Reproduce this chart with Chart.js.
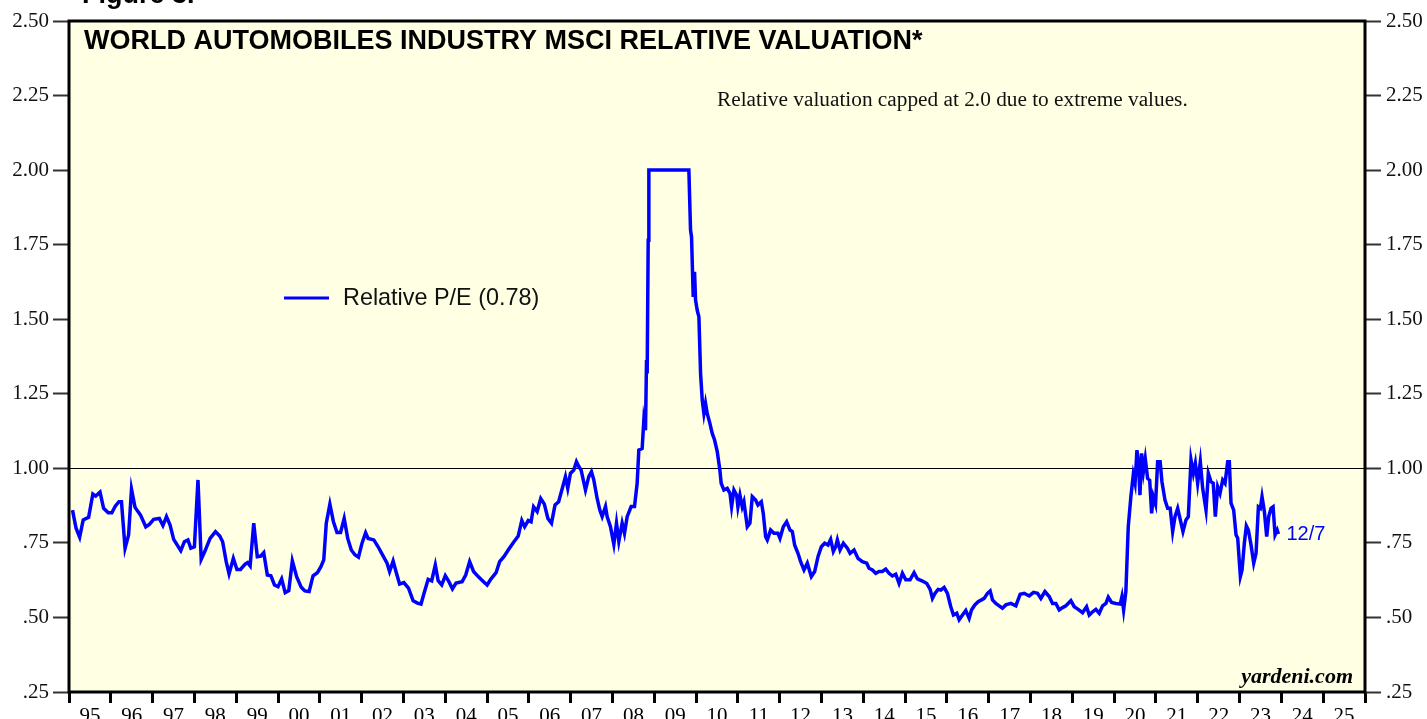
<!DOCTYPE html>
<html><head><meta charset="utf-8">
<script src="https://cdn.jsdelivr.net/npm/chart.js@4.4.0/dist/chart.umd.min.js"></script>
<style>html,body{margin:0;padding:0;background:#fff;overflow:hidden}#wrap{width:1427px;height:719px;position:relative}canvas{display:block}</style>
</head><body><div id="wrap"><canvas id="c" width="1427" height="719" style="width:1427px;height:719px"></canvas></div>
<script>
// ---- data (decimal year, relative P/E) ----
const dates = [
1995.084,1995.169,1995.255,1995.340,1995.469,1995.571,1995.640,1995.742,1995.828,1995.939,
1996.024,1996.110,1996.195,1996.255,1996.341,1996.426,1996.495,1996.580,1996.708,1996.837,1996.922,
1997.025,1997.161,1997.247,1997.332,1997.418,1997.504,1997.674,1997.760,1997.845,1997.914,1997.999,
1998.085,1998.162,1998.247,1998.375,1998.504,1998.606,1998.675,1998.760,1998.829,1998.931,
1999.017,1999.102,1999.214,1999.273,1999.333,1999.419,1999.504,1999.590,1999.658,1999.744,1999.829,1999.915,
2000.000,2000.086,2000.171,2000.257,2000.342,2000.445,2000.556,2000.641,2000.744,2000.838,2000.941,
2001.026,2001.094,2001.154,2001.240,2001.325,2001.411,2001.496,2001.582,2001.667,2001.753,2001.838,2001.924,
2002.009,2002.095,2002.155,2002.291,2002.394,2002.522,2002.608,2002.668,2002.753,2002.821,2002.907,
2003.010,2003.121,2003.232,2003.334,2003.420,2003.505,2003.591,2003.676,2003.762,2003.830,2003.916,
2004.001,2004.087,2004.172,2004.258,2004.403,2004.489,2004.583,2004.677,2004.788,2004.916,
2005.002,2005.087,2005.215,2005.301,2005.403,2005.514,2005.643,2005.745,2005.831,2005.899,2005.985,
2006.053,2006.113,2006.198,2006.284,2006.370,2006.455,2006.541,2006.626,2006.712,2006.875,2006.930,2006.994,
2007.074,2007.138,2007.194,2007.250,2007.354,2007.433,2007.497,2007.553,2007.633,2007.697,2007.753,2007.833,2007.872,2007.952,
2008.032,2008.096,2008.152,2008.231,2008.287,2008.351,2008.447,2008.527,2008.590,2008.630,2008.710,2008.750,2008.790,2008.814,2008.830,2008.854,2008.870,
2009.400,2009.827,2009.867,2009.891,2009.931,2009.963,2009.987,
2010.027,2010.067,2010.107,2010.147,2010.187,2010.226,2010.266,2010.330,2010.386,2010.442,2010.506,2010.569,2010.600,2010.666,2010.745,2010.810,2010.849,2010.905,2010.970,
2011.000,2011.049,2011.104,2011.144,2011.224,2011.288,2011.344,2011.424,2011.480,2011.560,2011.607,2011.663,2011.703,2011.783,2011.863,2011.958,
2012.006,2012.086,2012.166,2012.246,2012.302,2012.357,2012.437,2012.501,2012.581,2012.660,2012.756,2012.836,2012.916,2012.996,
2013.076,2013.155,2013.219,2013.283,2013.339,2013.379,2013.443,2013.523,2013.618,2013.682,2013.778,2013.874,2013.977,
2014.081,2014.137,2014.217,2014.297,2014.376,2014.456,2014.536,2014.616,2014.696,2014.775,2014.855,2014.935,
2015.015,2015.118,2015.214,2015.294,2015.414,2015.518,2015.598,2015.653,2015.717,2015.789,2015.853,2015.933,
2016.012,2016.092,2016.156,2016.236,2016.292,2016.372,2016.451,2016.531,2016.587,2016.667,2016.747,2016.827,2016.890,2016.970,
2017.034,2017.090,2017.170,2017.250,2017.329,2017.409,2017.529,2017.648,2017.752,2017.848,2017.967,
2018.071,2018.167,2018.247,2018.343,2018.446,2018.526,2018.606,2018.686,2018.766,2018.845,2018.965,
2019.045,2019.140,2019.244,2019.340,2019.404,2019.484,2019.563,2019.643,2019.723,2019.803,2019.859,2019.939,
2020.042,2020.146,2020.186,2020.226,2020.280,2020.337,2020.400,2020.457,2020.500,2020.545,2020.580,2020.617,2020.656,2020.700,2020.744,2020.800,2020.850,2020.896,2020.936,2020.990,
2021.040,2021.100,2021.143,2021.215,2021.279,2021.340,2021.399,2021.455,2021.519,2021.582,2021.646,2021.718,2021.774,2021.838,2021.894,2021.942,2021.997,
2022.061,2022.117,2022.197,2022.253,2022.317,2022.370,2022.420,2022.476,2022.532,2022.596,2022.652,2022.716,2022.755,2022.795,2022.859,2022.915,2022.955,
2023.019,2023.059,2023.114,2023.162,2023.210,2023.274,2023.338,2023.394,2023.450,2023.497,2023.537,2023.593,2023.649,2023.697,2023.753,2023.801,2023.849,2023.900,2023.930
];
const relPE = [
0.860,0.799,0.769,0.827,0.836,0.914,0.907,0.920,0.866,0.851,
0.851,0.874,0.888,0.888,0.732,0.777,0.930,0.869,0.844,0.804,0.812,
0.829,0.832,0.808,0.838,0.810,0.762,0.724,0.754,0.760,0.732,0.737,
0.961,0.695,0.721,0.765,0.788,0.773,0.754,0.687,0.646,0.698,
0.661,0.661,0.679,0.684,0.673,0.816,0.704,0.706,0.717,0.642,0.640,0.609,
0.603,0.629,0.583,0.590,0.690,0.637,0.601,0.589,0.587,0.640,0.650,
0.670,0.693,0.816,0.880,0.821,0.785,0.785,0.832,0.765,0.726,0.710,0.702,
0.749,0.784,0.765,0.760,0.737,0.704,0.682,0.654,0.689,0.654,0.612,
0.617,0.598,0.556,0.548,0.545,0.587,0.628,0.623,0.676,0.623,0.609,
0.640,0.620,0.596,0.615,0.620,0.642,0.687,0.654,0.637,0.620,
0.609,0.628,0.650,0.687,0.704,0.728,0.754,0.773,0.825,0.804,0.825,
0.821,0.871,0.855,0.899,0.880,0.832,0.816,0.877,0.888,0.972,0.933,0.983,
0.994,1.022,1.006,0.994,0.927,0.972,0.989,0.961,0.899,0.860,0.838,0.872,0.838,0.804,
0.745,0.816,0.755,0.816,0.782,0.838,0.872,0.872,0.950,1.061,1.067,1.162,1.128,1.363,1.318,1.765,2.000,
2.000,2.000,1.799,1.776,1.575,1.659,1.564,
1.530,1.508,1.318,1.229,1.184,1.218,1.184,1.151,1.117,1.095,1.056,0.994,0.950,0.927,0.933,0.916,0.871,0.927,0.910,
0.871,0.910,0.871,0.888,0.804,0.816,0.905,0.894,0.877,0.888,0.849,0.771,0.760,0.793,0.782,0.782,
0.765,0.804,0.821,0.793,0.788,0.743,0.715,0.687,0.659,0.682,0.637,0.654,0.704,0.737,
0.749,0.743,0.762,0.721,0.737,0.760,0.726,0.749,0.732,0.715,0.726,0.698,0.687,
0.682,0.665,0.659,0.648,0.654,0.654,0.662,0.648,0.639,0.645,0.614,0.648,
0.626,0.626,0.650,0.629,0.622,0.614,0.594,0.564,0.581,0.594,0.592,0.601,
0.581,0.536,0.508,0.514,0.492,0.508,0.523,0.497,0.525,0.542,0.553,0.559,0.564,0.581,
0.589,0.559,0.547,0.539,0.531,0.542,0.547,0.539,0.578,0.581,0.572,
0.584,0.581,0.564,0.587,0.570,0.547,0.547,0.525,0.533,0.539,0.556,
0.536,0.527,0.516,0.536,0.508,0.519,0.527,0.514,0.539,0.547,0.568,0.550,
0.547,0.545,0.570,0.525,0.587,0.804,0.905,0.978,0.950,1.061,1.020,0.910,1.050,0.990,1.033,0.966,0.960,0.849,0.905,0.880,
1.022,1.022,0.955,0.894,0.866,0.866,0.788,0.838,0.866,0.827,0.788,0.827,0.838,1.028,0.983,1.017,0.950,
1.022,0.933,0.860,0.983,0.955,0.950,0.838,0.938,0.916,0.961,0.950,1.022,1.022,0.883,0.860,0.777,0.766,
0.637,0.659,0.749,0.807,0.793,0.743,0.682,0.715,0.871,0.866,0.905,0.855,0.771,0.838,0.866,0.871,0.777,0.793,0.780
];
const yearLabels = ['95','96','97','98','99','00','01','02','03','04','05','06','07','08','09','10','11','12','13','14','15','16','17','18','19','20','21','22','23','24','25'];
const yTickLabels = ['.25','.50','.75','1.00','1.25','1.50','1.75','2.00','2.25','2.50'];
const seriesLabel = 'Relative P/E (0.78)';
const lastDateLabel = '12/7';
const figureText = 'Figure 3.';
const titleText = 'WORLD AUTOMOBILES INDUSTRY MSCI RELATIVE VALUATION*';
const noteText = 'Relative valuation capped at 2.0 due to extreme values.';
const sourceText = 'yardeni.com';

const SERIF = '"Times New Roman", "Liberation Serif", serif';
const SANS = 'Arial, "Liberation Sans", sans-serif';
const LINE_BLUE = '#0000ff';

const points = dates.map((d, i) => ({x: d, y: relPE[i]}));

const decor = {
  id: 'decor',
  beforeDraw(chart) {
    const {ctx, chartArea: a} = chart;
    ctx.save();
    ctx.fillStyle = '#ffffff';
    ctx.fillRect(0, 0, chart.width, chart.height);
    ctx.fillStyle = '#ffffe3';
    ctx.fillRect(a.left, a.top, a.right - a.left, a.bottom - a.top);
    ctx.restore();
  },
  afterDraw(chart) {
    const {ctx, chartArea: a} = chart;
    const xs = chart.scales.x, ys = chart.scales.y;
    ctx.save();
    // frame
    ctx.strokeStyle = '#000';
    ctx.lineWidth = 3;
    ctx.strokeRect(a.left, a.top, a.right - a.left, a.bottom - a.top);
    // figure label (cut at top)
    ctx.fillStyle = '#000';
    ctx.textBaseline = 'alphabetic';
    ctx.textAlign = 'left';
    ctx.font = 'bold 27px ' + SANS;
    ctx.fillText(figureText, 82, 3);
    // title
    ctx.font = 'bold 27px ' + SANS;
    ctx.fillText(titleText, a.left + 15, a.top + 28);
    // note
    ctx.font = '21.3px ' + SERIF;
    ctx.fillStyle = '#111';
    ctx.fillText(noteText, 717, 106);
    // legend
    ctx.strokeStyle = LINE_BLUE;
    ctx.lineWidth = 3;
    ctx.beginPath();
    ctx.moveTo(284, 298); ctx.lineTo(329, 298);
    ctx.stroke();
    ctx.fillStyle = '#111';
    ctx.font = '23.4px ' + SANS;
    ctx.textBaseline = 'middle';
    ctx.fillText(chart.data.datasets[0].label, 343, 299);
    // last date label
    const n = dates.length - 1;
    const lx = xs.getPixelForValue(dates[n]);
    const ly = ys.getPixelForValue(relPE[n]);
    ctx.fillStyle = LINE_BLUE;
    ctx.font = '20px ' + SANS;
    ctx.fillText(lastDateLabel, lx + 8, ly + 1);
    // source
    ctx.fillStyle = '#000';
    ctx.textAlign = 'right';
    ctx.textBaseline = 'alphabetic';
    ctx.font = 'italic bold 22px ' + SERIF;
    ctx.fillText(sourceText, a.right - 12, a.bottom - 9);
    ctx.restore();
  }
};

new Chart(document.getElementById('c'), {
  type: 'line',
  data: {
    datasets: [{
      label: seriesLabel,
      data: points,
      borderColor: LINE_BLUE,
      borderWidth: 3.5,
      pointRadius: 0,
      tension: 0,
      fill: false
    }]
  },
  options: {
    responsive: false,
    animation: false,
    devicePixelRatio: 1,
    parsing: true,
    layout: {padding: {top: 21, left: 0, right: 0, bottom: 0}},
    plugins: {legend: {display: false}, tooltip: {enabled: false}, title: {display: false}},
    scales: {
      x: {
        type: 'linear',
        position: 'bottom',
        min: 1995, max: 2026,
        afterFit: s => { s.height = 27; },
        border: {display: false},
        grid: {drawOnChartArea: false, drawTicks: true, tickLength: 11, tickWidth: 3, tickColor: '#000'},
        ticks: {
          stepSize: 1, autoSkip: false, maxRotation: 0, minRotation: 0,
          labelOffset: 20.9, padding: 1,
          color: '#000', font: {family: SERIF, size: 21},
          callback: v => yearLabels[Math.round(v - 1995)] ?? ''
        }
      },
      y: {
        position: 'left',
        min: 0.25, max: 2.5,
        afterFit: s => { s.width = 69; },
        border: {display: false},
        grid: {
          drawOnChartArea: true, drawTicks: true, tickLength: 16, tickWidth: 2, tickColor: '#333',
          lineWidth: 1,
          color: c => (c.tick && Math.abs(c.tick.value - 1) < 1e-9) ? '#000' : 'rgba(0,0,0,0)'
        },
        ticks: {
          stepSize: 0.25, padding: 4, color: '#111', font: {family: SERIF, size: 21},
          callback: v => yTickLabels[Math.round((v - 0.25) / 0.25)]
        }
      },
      y2: {
        position: 'right',
        min: 0.25, max: 2.5,
        afterFit: s => { s.width = 62; },
        border: {display: false},
        grid: {drawOnChartArea: false, drawTicks: true, tickLength: 16, tickWidth: 2, tickColor: '#333'},
        ticks: {
          stepSize: 0.25, padding: 5, color: '#111', font: {family: SERIF, size: 21},
          callback: v => yTickLabels[Math.round((v - 0.25) / 0.25)]
        }
      }
    }
  },
  plugins: [decor]
});
</script>
</body></html>
